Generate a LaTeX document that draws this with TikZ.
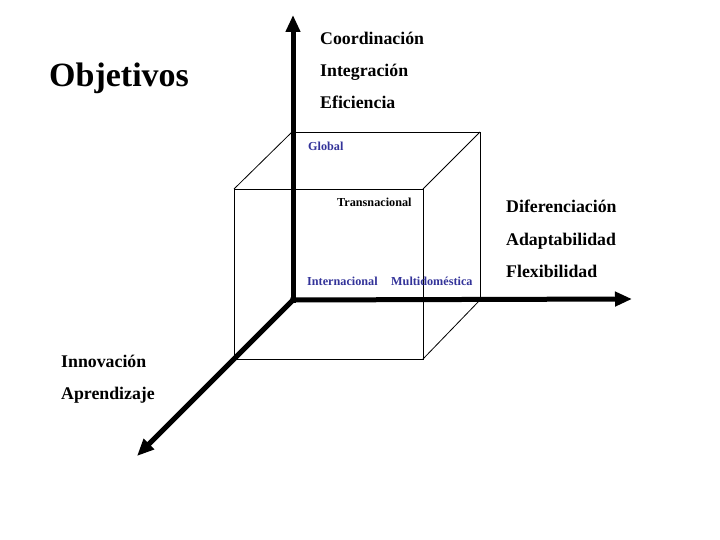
\documentclass[tikz,border=0pt]{standalone}
\usepackage{fontspec}
\setmainfont{Liberation Serif}
\usetikzlibrary{arrows.meta}
\definecolor{lblblue}{HTML}{333399}
\begin{document}
\begin{tikzpicture}[x=1pt,y=-1pt,
  axis/.style={line width=5pt,-{Triangle[length=17pt,width=14pt]}},
  cube/.style={line width=0.8pt},
  biglbl/.style={anchor=base west,inner sep=0pt,font=\fontsize{17.8}{20}\selectfont\bfseries},
  small/.style={anchor=base west,inner sep=0pt,font=\fontsize{12.2}{14}\selectfont\bfseries},
  smallblue/.style={small,text=lblblue}]
\useasboundingbox (0,0) rectangle (720,540);
% cube
\coordinate (b1) at (292,132);
\coordinate (b2) at (480,132);
\coordinate (b3) at (480,300);
\coordinate (b4) at (292,300);
\coordinate (f1) at (234,189);
\coordinate (f2) at (423,189);
\coordinate (f3) at (423,359);
\coordinate (f4) at (234,359);
\draw[cube] (b1) -- (b2) -- (b3);
\draw[cube] (f1) -- (f2) -- (f3) -- (f4) -- cycle;
\draw[cube] (b1) -- (f1) (b2) -- (f2) (b3) -- (f3);
% axes
\coordinate (o) at (293,300);
\coordinate (ytip) at (293,15);
\coordinate (xtip) at (632,299);
\coordinate (ztip) at (137,456);
\draw[axis] (293,302.5) -- (ytip);
\draw[axis] (290.5,300) -- (xtip);
\draw[axis] (o) -- (ztip);
% labels
\node[anchor=base west,inner sep=0pt,font=\fontsize{34}{38}\selectfont\bfseries] (obj) at (49,87) {Objetivos};
\node[biglbl] (coord) at (320,45) {Coordinación};
\node[biglbl] (integ) at (320,77) {Integración};
\node[biglbl] (efic) at (320,109) {Eficiencia};
\node[biglbl] (dif) at (506,212) {Diferenciación};
\node[biglbl] (adap) at (506,245) {Adaptabilidad};
\node[biglbl] (flex) at (506,277) {Flexibilidad};
\node[biglbl] (inno) at (61,367) {Innovación};
\node[biglbl] (apre) at (61,399) {Aprendizaje};
\node[smallblue] (glob) at (308,150.5) {Global};
\node[small] (trans) at (337,207) {Transnacional};
\node[smallblue] (inter) at (307,285.5) {Internacional};
\node[smallblue] (multi) at (391,285.5) {Multidoméstica};
\end{tikzpicture}
\end{document}
